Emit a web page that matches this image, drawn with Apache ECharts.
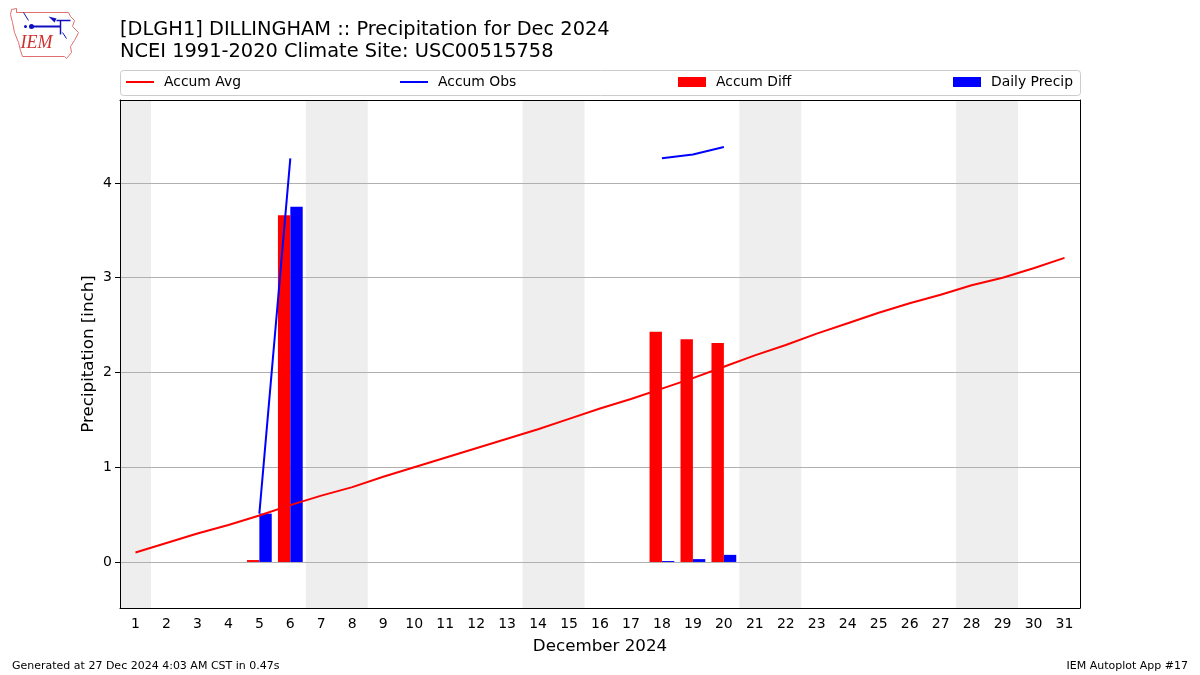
<!DOCTYPE html>
<html>
<head>
<meta charset="utf-8">
<script src="https://cdn.jsdelivr.net/npm/echarts@6/dist/echarts.min.js"></script>
<style>html,body{margin:0;padding:0;background:#fff}#c{width:1200px;height:675px}</style>
</head>
<body>
<div id="c"></div>
<script>
// ---- data ----
const days = Array.from({length: 31}, (_, i) => String(i + 1));
const weekendDays = [1, 7, 8, 14, 15, 21, 22, 28, 29];
const accumAvg = [0.10, 0.20, 0.30, 0.39, 0.49, 0.60, 0.70, 0.79, 0.90, 1.00,
  1.10, 1.20, 1.30, 1.40, 1.51, 1.62, 1.72, 1.83, 1.94, 2.06,
  2.18, 2.29, 2.41, 2.52, 2.63, 2.73, 2.82, 2.92, 3.00, 3.10, 3.21];
const accumObs = [null, null, null, null, 0.51, 4.26, null, null, null, null,
  null, null, null, null, null, null, null, 4.26, 4.30, 4.38,
  null, null, null, null, null, null, null, null, null, null, null];
const accumDiff = [null, null, null, null, 0.02, 3.66, null, null, null, null,
  null, null, null, null, null, null, null, 2.43, 2.35, 2.31,
  null, null, null, null, null, null, null, null, null, null, null];
const dailyPrecip = [0, 0, 0, 0, 0.51, 3.75, null, null, null, null,
  null, null, null, null, null, null, null, 0.01, 0.03, 0.075,
  null, null, null, null, null, null, null, null, null, null, null];
const yTicks = [0, 1, 2, 3, 4];
const titleText = '[DLGH1] DILLINGHAM :: Precipitation for Dec 2024\nNCEI 1991-2020 Climate Site: USC00515758';

const FONT = 'DejaVu Sans';
const chart = echarts.init(document.getElementById('c'), null, {renderer: 'canvas'});

// merge consecutive weekend days into shaded spans
const shadeAreas = [];
weekendDays.forEach(d => {
  const last = shadeAreas[shadeAreas.length - 1];
  if (last && last[1].xAxis === d - 0.5) last[1].xAxis = d + 0.5;
  else shadeAreas.push([{xAxis: d - 0.5}, {xAxis: d + 0.5}]);
});

function legendAt(name, left, isLine) {
  return {
    data: [{name: name, icon: 'rect'}], left: left, top: 75, padding: 0,
    itemWidth: 28, itemHeight: isLine ? 2 : 10,
    textStyle: {fontFamily: FONT, fontSize: 13.9, color: '#000', padding: [0, 0, 0, 5]},
    selectedMode: false
  };
}

const frameLine = {show: true, onZero: false, lineStyle: {color: '#000', width: 1}};

chart.setOption({
  animation: false,
  backgroundColor: '#fff',
  title: {
    text: titleText, left: 115, top: 14,
    textStyle: {fontFamily: FONT, fontSize: 19.4, fontWeight: 'normal', color: '#000', lineHeight: 22}
  },
  legend: [
    legendAt('Accum Avg', 126, true),
    legendAt('Accum Obs', 400, true),
    legendAt('Accum Diff', 678, false),
    legendAt('Daily Precip', 953, false)
  ],
  grid: {left: 120, right: 120, top: 100, bottom: 67, show: false, containLabel: false},
  xAxis: [{
    type: 'category', data: days, boundaryGap: true,
    name: 'December 2024', nameLocation: 'middle', nameGap: 30,
    nameTextStyle: {fontFamily: FONT, fontSize: 16.7, color: '#000'},
    axisLine: frameLine,
    axisTick: {alignWithLabel: true, length: 5, lineStyle: {color: '#000'}},
    axisLabel: {fontFamily: FONT, fontSize: 14, color: '#000', margin: 9, interval: 0},
    splitLine: {show: false}, z: 3
  }, {
    type: 'value', min: 0.5, max: 31.5, position: 'top', show: true,
    axisLine: frameLine,
    axisTick: {show: false}, axisLabel: {show: false}, splitLine: {show: false}, z: 3
  }],
  yAxis: [{
    type: 'value', min: -0.486, max: 4.876,
    name: 'Precipitation [inch]', nameLocation: 'middle', nameGap: 23, nameRotate: 90, nameMoveOverlap: false,
    nameTextStyle: {fontFamily: FONT, fontSize: 16.7, color: '#000'},
    axisLine: frameLine,
    axisTick: {show: true, length: 5, customValues: yTicks, lineStyle: {color: '#000'}},
    axisLabel: {fontFamily: FONT, fontSize: 14, color: '#000', margin: 8, customValues: yTicks},
    splitLine: {show: true, showMinLine: true, showMaxLine: true, lineStyle: {color: '#b0b0b0', width: 1}},
    z: 1
  }, {
    type: 'value', min: -0.486, max: 4.876, position: 'right',
    axisLine: frameLine,
    axisTick: {show: false}, axisLabel: {show: false}, splitLine: {show: false}, z: 3
  }],
  series: [
    {
      name: 'shade', type: 'line', xAxisIndex: 1, yAxisIndex: 0, data: [], z: 0, silent: true,
      markArea: {silent: true, z: 0, itemStyle: {color: '#eeeeee'}, data: shadeAreas}
    },
    {
      name: 'Accum Diff', type: 'bar', xAxisIndex: 0, data: accumDiff,
      barWidth: '40%', barGap: '0%', itemStyle: {color: '#ff0000'}, z: 2
    },
    {
      name: 'Daily Precip', type: 'bar', xAxisIndex: 0, data: dailyPrecip,
      barWidth: '40%', barGap: '0%', itemStyle: {color: '#0000ff'}, z: 2
    },
    {
      name: 'Accum Avg', type: 'line', xAxisIndex: 0, data: accumAvg, symbol: 'none',
      lineStyle: {color: '#ff0000', width: 2}, itemStyle: {color: '#ff0000'}, z: 2.5
    },
    {
      name: 'Accum Obs', type: 'line', xAxisIndex: 0, data: accumObs, symbol: 'none', connectNulls: false,
      lineStyle: {color: '#0000ff', width: 2}, itemStyle: {color: '#0000ff'}, z: 2.5
    }
  ],
  graphic: [
    {type: 'rect', left: 120, top: 70, shape: {width: 960, height: 25, r: 3}, style: {fill: '#fff', stroke: '#cccccc', lineWidth: 1}, z: -1},
    {type: 'text', left: 12, top: 661, style: {text: 'Generated at 27 Dec 2024 4:03 AM CST in 0.47s', font: '11px "DejaVu Sans"', fill: '#000'}},
    {type: 'text', right: 12, top: 661, style: {text: 'IEM Autoplot App #17', font: '11px "DejaVu Sans"', fill: '#000'}},
    {
      type: 'group', left: 8, top: 6,
      children: [
        {type: 'polyline', shape: {points: [[3,3],[8,2],[8,6],[60,6],[62,10],[66,14],[64,20],[70,26],[66,34],[62,40],[63,46],[58,52],[56,50],[14,50],[12,44],[10,36],[6,26],[4,16],[2,8],[3,3]]}, style: {stroke: '#e07070', fill: 'none', lineWidth: 1}},
        {type: 'text', left: 12, top: 28, style: {text: 'IEM', font: 'italic 18px "Liberation Serif"', fill: '#d03030'}},
        {type: 'line', shape: {x1: 22, y1: 20, x2: 52, y2: 20}, style: {stroke: '#1010c0', lineWidth: 2}},
        {type: 'circle', shape: {cx: 23, cy: 20, r: 2.5}, style: {fill: '#1010c0'}},
        {type: 'line', shape: {x1: 52, y1: 14, x2: 52, y2: 28}, style: {stroke: '#1010c0', lineWidth: 1.5}},
        {type: 'polygon', shape: {points: [[40,10],[48,12],[46,16]]}, style: {fill: '#1010c0'}},
        {type: 'line', shape: {x1: 48, y1: 14, x2: 62, y2: 14}, style: {stroke: '#1010c0', lineWidth: 1.5}},
        {type: 'line', shape: {x1: 15, y1: 6, x2: 20, y2: 14}, style: {stroke: '#1010c0', lineWidth: 1}},
        {type: 'circle', shape: {cx: 17, cy: 20, r: 1.5}, style: {fill: '#1010c0'}},
        {type: 'line', shape: {x1: 54, y1: 26, x2: 58, y2: 32}, style: {stroke: '#1010c0', lineWidth: 1}}
      ]
    }
  ]
});
</script>
</body>
</html>
